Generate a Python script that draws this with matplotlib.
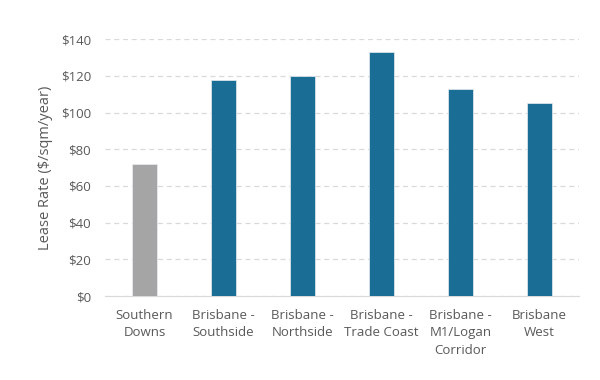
import numpy as np
import matplotlib
matplotlib.use("Agg")
import matplotlib.pyplot as plt
from matplotlib.ticker import FuncFormatter, MultipleLocator

categories = ["Southern\nDowns", "Brisbane -\nSouthside", "Brisbane -\nNorthside",
              "Brisbane -\nTrade Coast", "Brisbane -\nM1/Logan\nCorridor", "Brisbane\nWest"]
lease_rate = [72, 118, 120, 133, 113, 105]
bar_colors = ["#a5a5a6", "#1a6e96", "#1a6e96", "#1a6e96", "#1a6e96", "#1a6e96"]

TXT = "#595959"
plt.rcParams["font.family"] = ["Open Sans", "DejaVu Sans"]

fig = plt.figure(figsize=(6, 3.8), dpi=100)
ax = fig.add_axes([0.175, 0.221, 0.79, 0.676])

x = np.arange(len(categories))
ax.bar(x, lease_rate, width=0.31, color=bar_colors, edgecolor="#e8eef2", linewidth=0.5, zorder=3)

ax.set_xlim(-0.5, len(categories) - 0.5)
ax.set_ylim(0, 140)
ax.yaxis.set_major_locator(MultipleLocator(20))
ax.yaxis.set_major_formatter(FuncFormatter(lambda v, p: "\\$%d" % v))
ax.grid(axis="y", color="#d9d9d9", linestyle=(0, (4, 3)), linewidth=0.9, zorder=0)

ax.set_xticks(x)
ax.set_xticklabels(categories, fontsize=9.5, color=TXT, linespacing=1.45)
ax.tick_params(axis="both", length=0, colors=TXT, labelsize=9.5)
ax.tick_params(axis="x", pad=9)
ax.tick_params(axis="y", pad=10)

for s in ["top", "right", "left"]:
    ax.spines[s].set_visible(False)
ax.spines["bottom"].set_color("#d9d9d9")

ax.set_ylabel("Lease Rate (\\$/sqm/year)", fontsize=10.5, color=TXT, labelpad=6)

fig.savefig("out.png", dpi=100)
